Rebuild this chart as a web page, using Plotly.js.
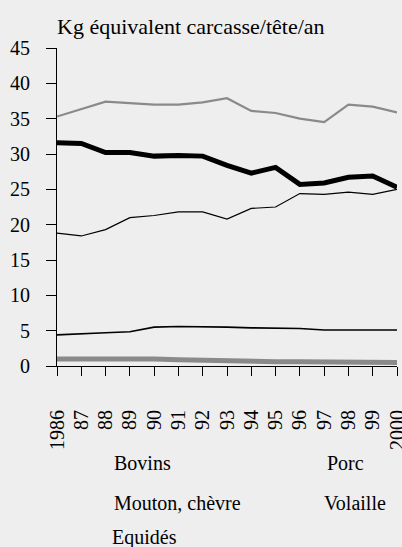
<!DOCTYPE html>
<html>
<head>
<meta charset="utf-8">
<script src="https://cdn.plot.ly/plotly-3.0.1.min.js"></script>
<style>
html,body{margin:0;padding:0;background:#eeeeee;}
#chart{width:402px;height:547px;}
</style>
</head>
<body>
<div id="chart"></div>
<script>
var years = [1986,1987,1988,1989,1990,1991,1992,1993,1994,1995,1996,1997,1998,1999,2000];
var yearLabels = ['1986','87','88','89','90','91','92','93','94','95','96','97','98','99','2000'];
var porc     = [35.3,36.3,37.4,37.2,37.0,37.0,37.3,37.9,36.1,35.8,35.0,34.5,37.0,36.7,35.9];
var bovins   = [31.6,31.5,30.2,30.2,29.7,29.8,29.7,28.4,27.3,28.1,25.7,25.9,26.7,26.9,25.3];
var volaille = [18.8,18.4,19.3,21.0,21.3,21.8,21.8,20.8,22.3,22.5,24.4,24.3,24.6,24.3,25.0];
var mouton   = [4.4,4.6,4.7,4.85,5.5,5.6,5.6,5.5,5.4,5.4,5.3,5.1,5.1,5.1,5.1];
var equides  = [1.0,1.0,1.1,1.1,1.0,0.9,0.8,0.7,0.6,0.6,0.6,0.6,0.6,0.5,0.5];
var seriesNames = ['Bovins','Porc','Mouton, chèvre','Volaille','Equidés'];
var yTicks = [0,5,10,15,20,25,30,35,40,45];
var titleText = 'Kg équivalent carcasse/tête/an';

var font = 'Times New Roman';

var traces = [
  {x: years, y: porc, mode: 'lines', line: {color: '#8a8a8a', width: 2.2}, name: seriesNames[1], cliponaxis: false},
  {x: years, y: bovins, mode: 'lines', line: {color: '#000000', width: 5}, name: seriesNames[0], cliponaxis: false},
  {x: years, y: volaille, mode: 'lines', line: {color: '#000000', width: 1.2}, name: seriesNames[3], cliponaxis: false},
  {x: years, y: mouton, mode: 'lines', line: {color: '#000000', width: 1.6}, name: seriesNames[2], cliponaxis: false},
  {x: years, y: equides, mode: 'lines', line: {color: '#8a8a8a', width: 5}, name: seriesNames[4], cliponaxis: false}
];

var legendPos = [
  {x: 0.162, y: -0.305},
  {x: 0.788, y: -0.305},
  {x: 0.162, y: -0.431},
  {x: 0.779, y: -0.431},
  {x: 0.156, y: -0.540}
];
var annotations = seriesNames.map(function(n, i){
  return {text: n, xref: 'paper', yref: 'paper', x: legendPos[i].x, y: legendPos[i].y,
          xanchor: 'left', yanchor: 'middle', showarrow: false,
          font: {family: font, size: 20, color: '#000'}};
});

var layout = {
  width: 402, height: 547,
  margin: {l: 57, r: 5, t: 48, b: 181, pad: 0},
  paper_bgcolor: '#eeeeee', plot_bgcolor: '#eeeeee',
  showlegend: false,
  font: {family: font, size: 20, color: '#000'},
  title: {text: titleText, x: 0, xref: 'paper', xanchor: 'left', y: 1 - 26/547, yref: 'container', yanchor: 'middle',
          font: {family: font, size: 22, color: '#000'}},
  xaxis: {
    range: [1986, 2000], tickvals: years, ticktext: yearLabels, tickangle: -90,
    showgrid: false, zeroline: false, showline: true, linecolor: '#000', linewidth: 1,
    ticks: 'outside', ticklen: 9, tickcolor: '#000', tickwidth: 1,
    ticklabelstandoff: 26, ticklabeloverflow: 'allow',
    tickfont: {family: font, size: 20, color: '#000'}
  },
  yaxis: {
    range: [0, 45], tickvals: yTicks,
    showgrid: false, zeroline: false, showline: true, linecolor: '#000', linewidth: 1,
    ticks: 'outside', ticklen: 10, tickcolor: '#000', tickwidth: 1,
    ticklabelstandoff: 12,
    tickfont: {family: font, size: 20, color: '#000'}
  },
  annotations: annotations
};

Plotly.newPlot('chart', traces, layout, {displayModeBar: false, staticPlot: true});
</script>
</body>
</html>
